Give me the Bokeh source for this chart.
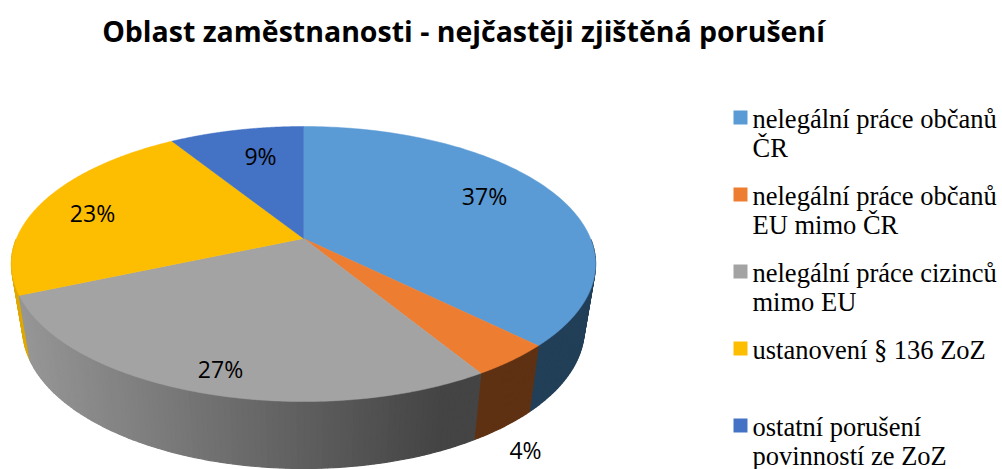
import numpy as np
from bokeh.embed import file_html
from bokeh.models import Range1d
from bokeh.plotting import figure
from bokeh.resources import INLINE
from bokeh.core.properties import value

# ---- chart content ----
title_text = "Oblast zaměstnanosti - nejčastěji zjištěná porušení"
shares = [37.4, 3.9, 27.2, 22.6, 8.9]
share_labels = ["37%", "4%", "27%", "23%", "9%"]
legend_first = ["nelegální práce občanů", "nelegální práce občanů", "nelegální práce cizinců",
                "ustanovení § 136 ZoZ", "ostatní porušení"]
legend_second = ["ČR", "EU mimo ČR", "mimo EU", "", "povinností ze ZoZ"]
top_colors = ["#5b9bd5", "#ed7d31", "#a3a3a3", "#fdbd00", "#4472c4"]
wall_colors = ["#223f58", "#5f3113", None, "#dfa800", "#2a4678"]

# ---- layout (page pixels) ----
W, H = 1002, 469
label_x = [484, 525, 220, 92, 260]
label_y = [195, 449, 368, 212, 155]
CX, KP = 303, 0.1855
TOP = dict(ay=238, a=132.8, b=287.0)
BOT = dict(ay=302, a=135.2, b=276.0)


def project(theta, face):
    X, Y = np.sin(theta), np.cos(theta)
    w = 1 + KP * Y
    return CX + face["b"] * X / w, face["ay"] - face["a"] * Y / w


def grey_wall(x):
    t = np.clip((x - 20) / 420, 0, 1)
    g = int(round(150 + (68 - 150) * t))
    return f"#{g:02x}{g:02x}{g:02x}"


p = figure(width=W, height=H, x_range=Range1d(0, W), y_range=Range1d(H, 0),
           output_backend="svg", toolbar_location=None, min_border=0,
           outline_line_color=None, background_fill_color="white")
p.axis.visible = False
p.grid.visible = False

edges = np.cumsum([0] + shares) / sum(shares) * 2 * np.pi

# side wall, far strips first (only the part facing the viewer)
strips = []
for i in range(len(shares)):
    n = max(2, int(np.degrees(edges[i + 1] - edges[i])))
    t = np.linspace(edges[i], edges[i + 1], n + 1)
    for a, b in zip(t[:-1], t[1:]):
        seg = np.array([a, b])
        if np.cos(seg).mean() > 0:
            continue
        tx, ty = project(seg, TOP)
        bx, by = project(seg, BOT)
        col = wall_colors[i] or grey_wall(tx.mean())
        strips.append((np.cos(seg).mean(), [tx[0], tx[1], bx[1], bx[0]], [ty[0], ty[1], by[1], by[0]], col))
strips.sort(key=lambda s: -s[0])
p.patches([s[1] for s in strips], [s[2] for s in strips], fill_color=[s[3] for s in strips],
          line_color=[s[3] for s in strips], line_width=1.2)

# top face
for i in range(len(shares)):
    t = np.linspace(edges[i], edges[i + 1], 121)
    x, y = project(t, TOP)
    x0, y0 = project(np.array([0.0]), dict(TOP, a=0, b=0))
    p.patch(np.r_[x0, x], np.r_[y0, y], fill_color=top_colors[i], line_color=top_colors[i], line_width=0.5)

# share labels
p.text(label_x, label_y, text=share_labels, text_font=value("Open Sans"), text_font_size="23px",
       text_align="center", text_baseline="middle", text_color="#000000")

# title
p.text([463], [30], text=[title_text], text_font=value("Open Sans"), text_font_style="bold",
       text_font_size="28.5px", text_align="center", text_baseline="middle", text_color="#000000")

# legend
rows = np.arange(len(legend_first))
sq_top = 110 + 77 * rows
p.quad(left=733, right=747, top=sq_top, bottom=sq_top + 14, fill_color=top_colors, line_color=None)
p.text(752, sq_top + 8, text=legend_first, text_font=value("Liberation Serif"), text_font_size="26.5px",
       text_baseline="alphabetic", text_color="#000000")
p.text(752, sq_top + 37, text=legend_second, text_font=value("Liberation Serif"), text_font_size="26.5px",
       text_baseline="alphabetic", text_color="#000000")

open("out.html", "w").write(file_html(p, INLINE))
